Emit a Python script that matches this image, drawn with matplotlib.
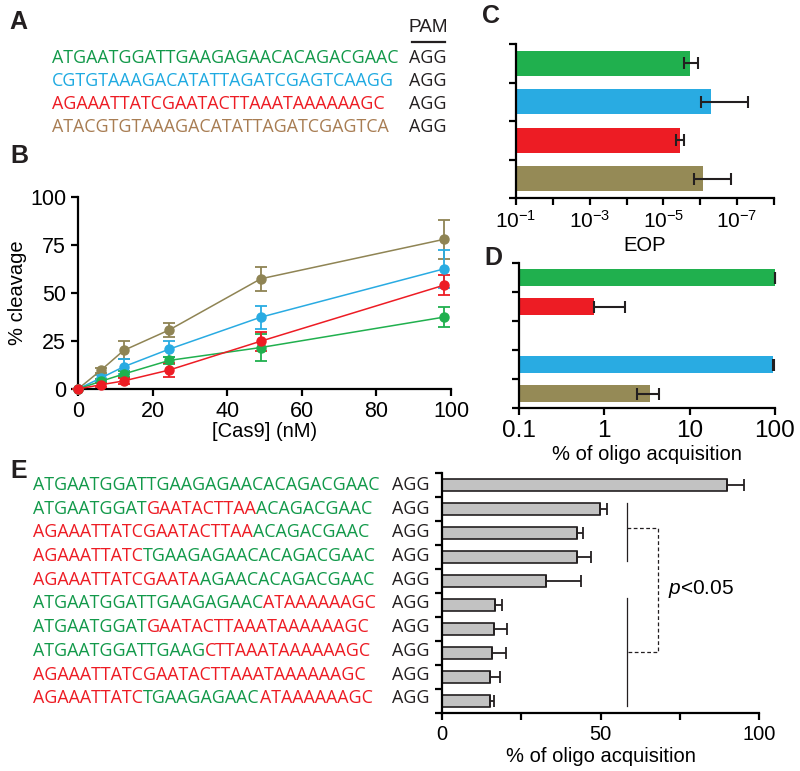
import numpy as np
import matplotlib.pyplot as plt

plt.rcParams['font.family'] = 'Liberation Sans'
plt.rcParams['mathtext.fontset'] = 'custom'
plt.rcParams['mathtext.rm'] = 'Liberation Sans'
plt.rcParams['mathtext.it'] = 'Liberation Sans:italic'

GREEN = '#20B04E'
BLUE = '#29ABE2'
RED = '#ED1C24'
OLIVE = '#958A56'
SEQ_GREEN = '#12994A'
SEQ_BLUE = '#1FAAE1'
SEQ_RED = '#ED1C24'
SEQ_BROWN = '#A87D53'
SEQ_FONT = 'Open Sans'
SEQ_SIZE = 12.9

# panel A: protospacers
spacers = ["ATGAATGGATTGAAGAGAACACAGACGAAC",
           "CGTGTAAAGACATATTAGATCGAGTCAAGG",
           "AGAAATTATCGAATACTTAAATAAAAAAGC",
           "ATACGTGTAAAGACATATTAGATCGAGTCA"]
spacer_colors = [SEQ_GREEN, SEQ_BLUE, SEQ_RED, SEQ_BROWN]
pam = "AGG"

# panel B: cleavage vs Cas9
cas9_nM = [0, 6.1, 12.25, 24.5, 49, 98]
cleave_green = [0, 4.0, 7.8, 14.9, 21.6, 37.4]
cleave_green_err = [0, 1.0, 1.5, 2.0, 7.0, 5.3]
cleave_blue = [0, 5.7, 11.6, 20.8, 37.4, 62.5]
cleave_blue_err = [0, 1.5, 4.0, 4.0, 6.0, 10.0]
cleave_red = [0, 2.2, 4.2, 9.9, 24.9, 54.0]
cleave_red_err = [0, 1.0, 1.5, 3.5, 5.0, 5.3]
cleave_olive = [0, 9.7, 20.1, 30.8, 57.4, 77.9]
cleave_olive_err = [0, 1.2, 4.7, 3.8, 6.3, 10.3]

# panel C: EOP
eop = [1.95e-6, 5.0e-7, 3.6e-6, 8.3e-7]
eop_err = [0.8e-6, 4.5e-7, 0.85e-6, 6.8e-7]
eop_colors = [GREEN, BLUE, RED, OLIVE]

# panel D: oligo acquisition (slot 2 left empty)
acqD_slots = [0, 1, 3, 4]
acqD = [99.0, 0.75, 95.0, 3.4]
acqD_err = [2.0, 1.0, 3.0, 1.0]
acqD_colors = [GREEN, RED, BLUE, OLIVE]

# panel E: chimeric spacers
g, r = 'g', 'r'
chimeras = [
    [("ATGAATGGATTGAAGAGAACACAGACGAAC", g)],
    [("ATGAATGGAT", g), ("GAATACTTAA", r), ("ACAGACGAAC", g)],
    [("AGAAATTATCGAATACTTAA", r), ("ACAGACGAAC", g)],
    [("AGAAATTATC", r), ("TGAAGAGAACACAGACGAAC", g)],
    [("AGAAATTATCGAATA", r), ("AGAACACAGACGAAC", g)],
    [("ATGAATGGATTGAAGAGAAC", g), ("ATAAAAAAGC", r)],
    [("ATGAATGGAT", g), ("GAATACTTAAATAAAAAAGC", r)],
    [("ATGAATGGATTGAAG", g), ("CTTAAATAAAAAAGC", r)],
    [("AGAAATTATCGAATACTTAAATAAAAAAGC", r)],
    [("AGAAATTATC", r), ("TGAAGAGAAC", g), ("ATAAAAAAGC", r)],
]
acqE = [89.9, 49.9, 42.7, 42.7, 32.8, 16.7, 16.4, 15.7, 15.0, 15.0]
acqE_err = [5.3, 2.2, 1.7, 4.2, 11.0, 2.1, 4.2, 4.5, 3.4, 1.4]

W, H = 800, 771
fig = plt.figure(figsize=(W / 100, H / 100), dpi=100)

bg = fig.add_axes([0, 0, 1, 1], zorder=-1)
bg.set_xlim(0, W)
bg.set_ylim(H, 0)
bg.axis('off')


def px_axes(left, top, right, bottom):
    return fig.add_axes([left / W, 1 - bottom / H, (right - left) / W, (bottom - top) / H])


def style(ax, size=14.5):
    for s in ['top', 'right']:
        ax.spines[s].set_visible(False)
    for s in ['left', 'bottom']:
        ax.spines[s].set_linewidth(1.6)
    ax.tick_params(width=1.6, length=5, labelsize=size, color='black')
    ax.tick_params(which='minor', width=1.6, length=5)


def seq_text(x, y, segments):
    cmap = {'g': SEQ_GREEN, 'r': SEQ_RED}
    t = bg.text(x, y, segments[0][0], color=cmap.get(segments[0][1], segments[0][1]),
                fontsize=SEQ_SIZE, family=SEQ_FONT, va='center', ha='left')
    for s, c in segments[1:]:
        t = bg.annotate(s, xy=(1, 0), xycoords=t, va='bottom', ha='left',
                        color=cmap.get(c, c), fontsize=SEQ_SIZE, family=SEQ_FONT)


# panel letters
for lab, x, y in [('A', 9, 22), ('B', 10, 156), ('C', 482, 16), ('D', 484, 258), ('E', 10, 471)]:
    bg.text(x, y, lab, fontsize=18, fontweight='bold', va='center', ha='left', color='#231F20')

# ---- A
bg.text(428, 27, 'PAM', fontsize=13.7, ha='center', va='center', color='#231F20')
bg.plot([412, 445], [42, 42], color='#231F20', lw=1.6)
for i, (s, c) in enumerate(zip(spacers, spacer_colors)):
    y = 58 + 23 * i
    seq_text(52, y, [(s, c)])
    bg.text(409, y, pam, fontsize=SEQ_SIZE, family=SEQ_FONT, va='center', color='#231F20')

# ---- B
axB = px_axes(78, 197, 451, 389)
style(axB, 15.5)
for ys, es, col in [(cleave_olive, cleave_olive_err, '#8F8454'),
                    (cleave_blue, cleave_blue_err, BLUE),
                    (cleave_green, cleave_green_err, GREEN),
                    (cleave_red, cleave_red_err, RED)]:
    axB.errorbar(cas9_nM, ys, yerr=es, color=col, marker='o', ms=6.5, lw=1.1,
                 capsize=4, capthick=1.3, elinewidth=1.3, clip_on=False, zorder=3)
axB.set_xlim(0, 100)
axB.set_ylim(0, 100)
axB.set_xticks(range(0, 101, 20))
axB.set_yticks(range(0, 101, 25))
axB.set_ylabel('% cleavage', fontsize=14.5, labelpad=2)
axB.set_xlabel('[Cas9] (nM)', fontsize=14.5, labelpad=0)

# ---- C
axC = px_axes(516, 44, 774, 198)
style(axC, 15)
axC.set_xscale('log')
ypos = np.arange(len(eop)) + 0.5
axC.barh(ypos, [0.1 - v for v in eop], left=eop, height=0.66, color=eop_colors)
axC.errorbar(eop, ypos, xerr=eop_err, fmt='none', ecolor='#231F20', elinewidth=1.5,
             capsize=4, capthick=1.5)
axC.set_xlim(0.1, 1e-8)
axC.set_ylim(len(eop), 0)
axC.set_yticks(range(len(eop) + 1))
axC.set_yticklabels([])
dec = [10.0 ** -k for k in range(1, 9)]
axC.set_xticks(dec)
axC.set_xticklabels(['$10^{-%d}$' % k if k % 2 else '' for k in range(1, 9)])
axC.xaxis.set_minor_locator(plt.NullLocator())
axC.set_xlabel('EOP', fontsize=14.5, labelpad=3)

# ---- D
axD = px_axes(519, 263, 775, 408)
style(axD, 17.5)
axD.set_xscale('log')
yD = np.array(acqD_slots) + 0.5
axD.barh(yD, [v - 0.1 for v in acqD], left=0.1, height=0.62, color=acqD_colors)
axD.errorbar(acqD, yD, xerr=[[0, 0, 0, 1.0], acqD_err], fmt='none', ecolor='#231F20',
             elinewidth=1.5, capsize=4, capthick=1.5, clip_on=False)
axD.set_xlim(0.1, 100)
axD.set_ylim(5, 0)
axD.set_yticks(range(6))
axD.set_yticklabels([])
axD.set_xticks([0.1, 1, 10, 100])
axD.set_xticklabels(['0.1', '1', '10', '100'])
axD.xaxis.set_minor_locator(plt.NullLocator())
axD.set_xlabel('% of oligo acquisition', fontsize=14.5, labelpad=2)

# ---- E
for i, segs in enumerate(chimeras):
    y = 485 + 23.7 * i
    seq_text(33, y, segs)
    bg.text(392, y, pam, fontsize=SEQ_SIZE, family=SEQ_FONT, va='center', color='#231F20')

axE = px_axes(442, 473, 759, 713)
style(axE)
yE = np.arange(len(acqE)) + 0.5
axE.barh(yE, acqE, height=0.5, color='#C2C2C2', edgecolor='#231F20', linewidth=1.2)
axE.errorbar(acqE, yE, xerr=[[0] * len(acqE), acqE_err], fmt='none', ecolor='#231F20',
             elinewidth=1.3, capsize=4, capthick=1.3)
axE.set_xlim(0, 100)
axE.set_ylim(len(acqE), 0)
axE.set_yticks(range(len(acqE) + 1))
axE.set_yticklabels([])
axE.set_xticks([0, 50, 100])
axE.set_xticks([25, 75], minor=True)
axE.set_xlabel('% of oligo acquisition', fontsize=14.5, labelpad=2)
# significance marks
axE.plot([58.4, 58.4], [1.25, 3.68], color='#231F20', lw=0.9)
axE.plot([58.4, 58.4], [5.21, 9.69], color='#231F20', lw=0.9)
axE.plot([58.4, 68.1, 68.1, 58.4], [2.29, 2.29, 7.44, 7.44], color='#231F20', lw=0.9,
         ls=(0, (3, 2)))
axE.text(71.4, 4.83, '$p$<0.05', fontsize=15, va='center', ha='left')

fig.savefig('out.png', dpi=100)
